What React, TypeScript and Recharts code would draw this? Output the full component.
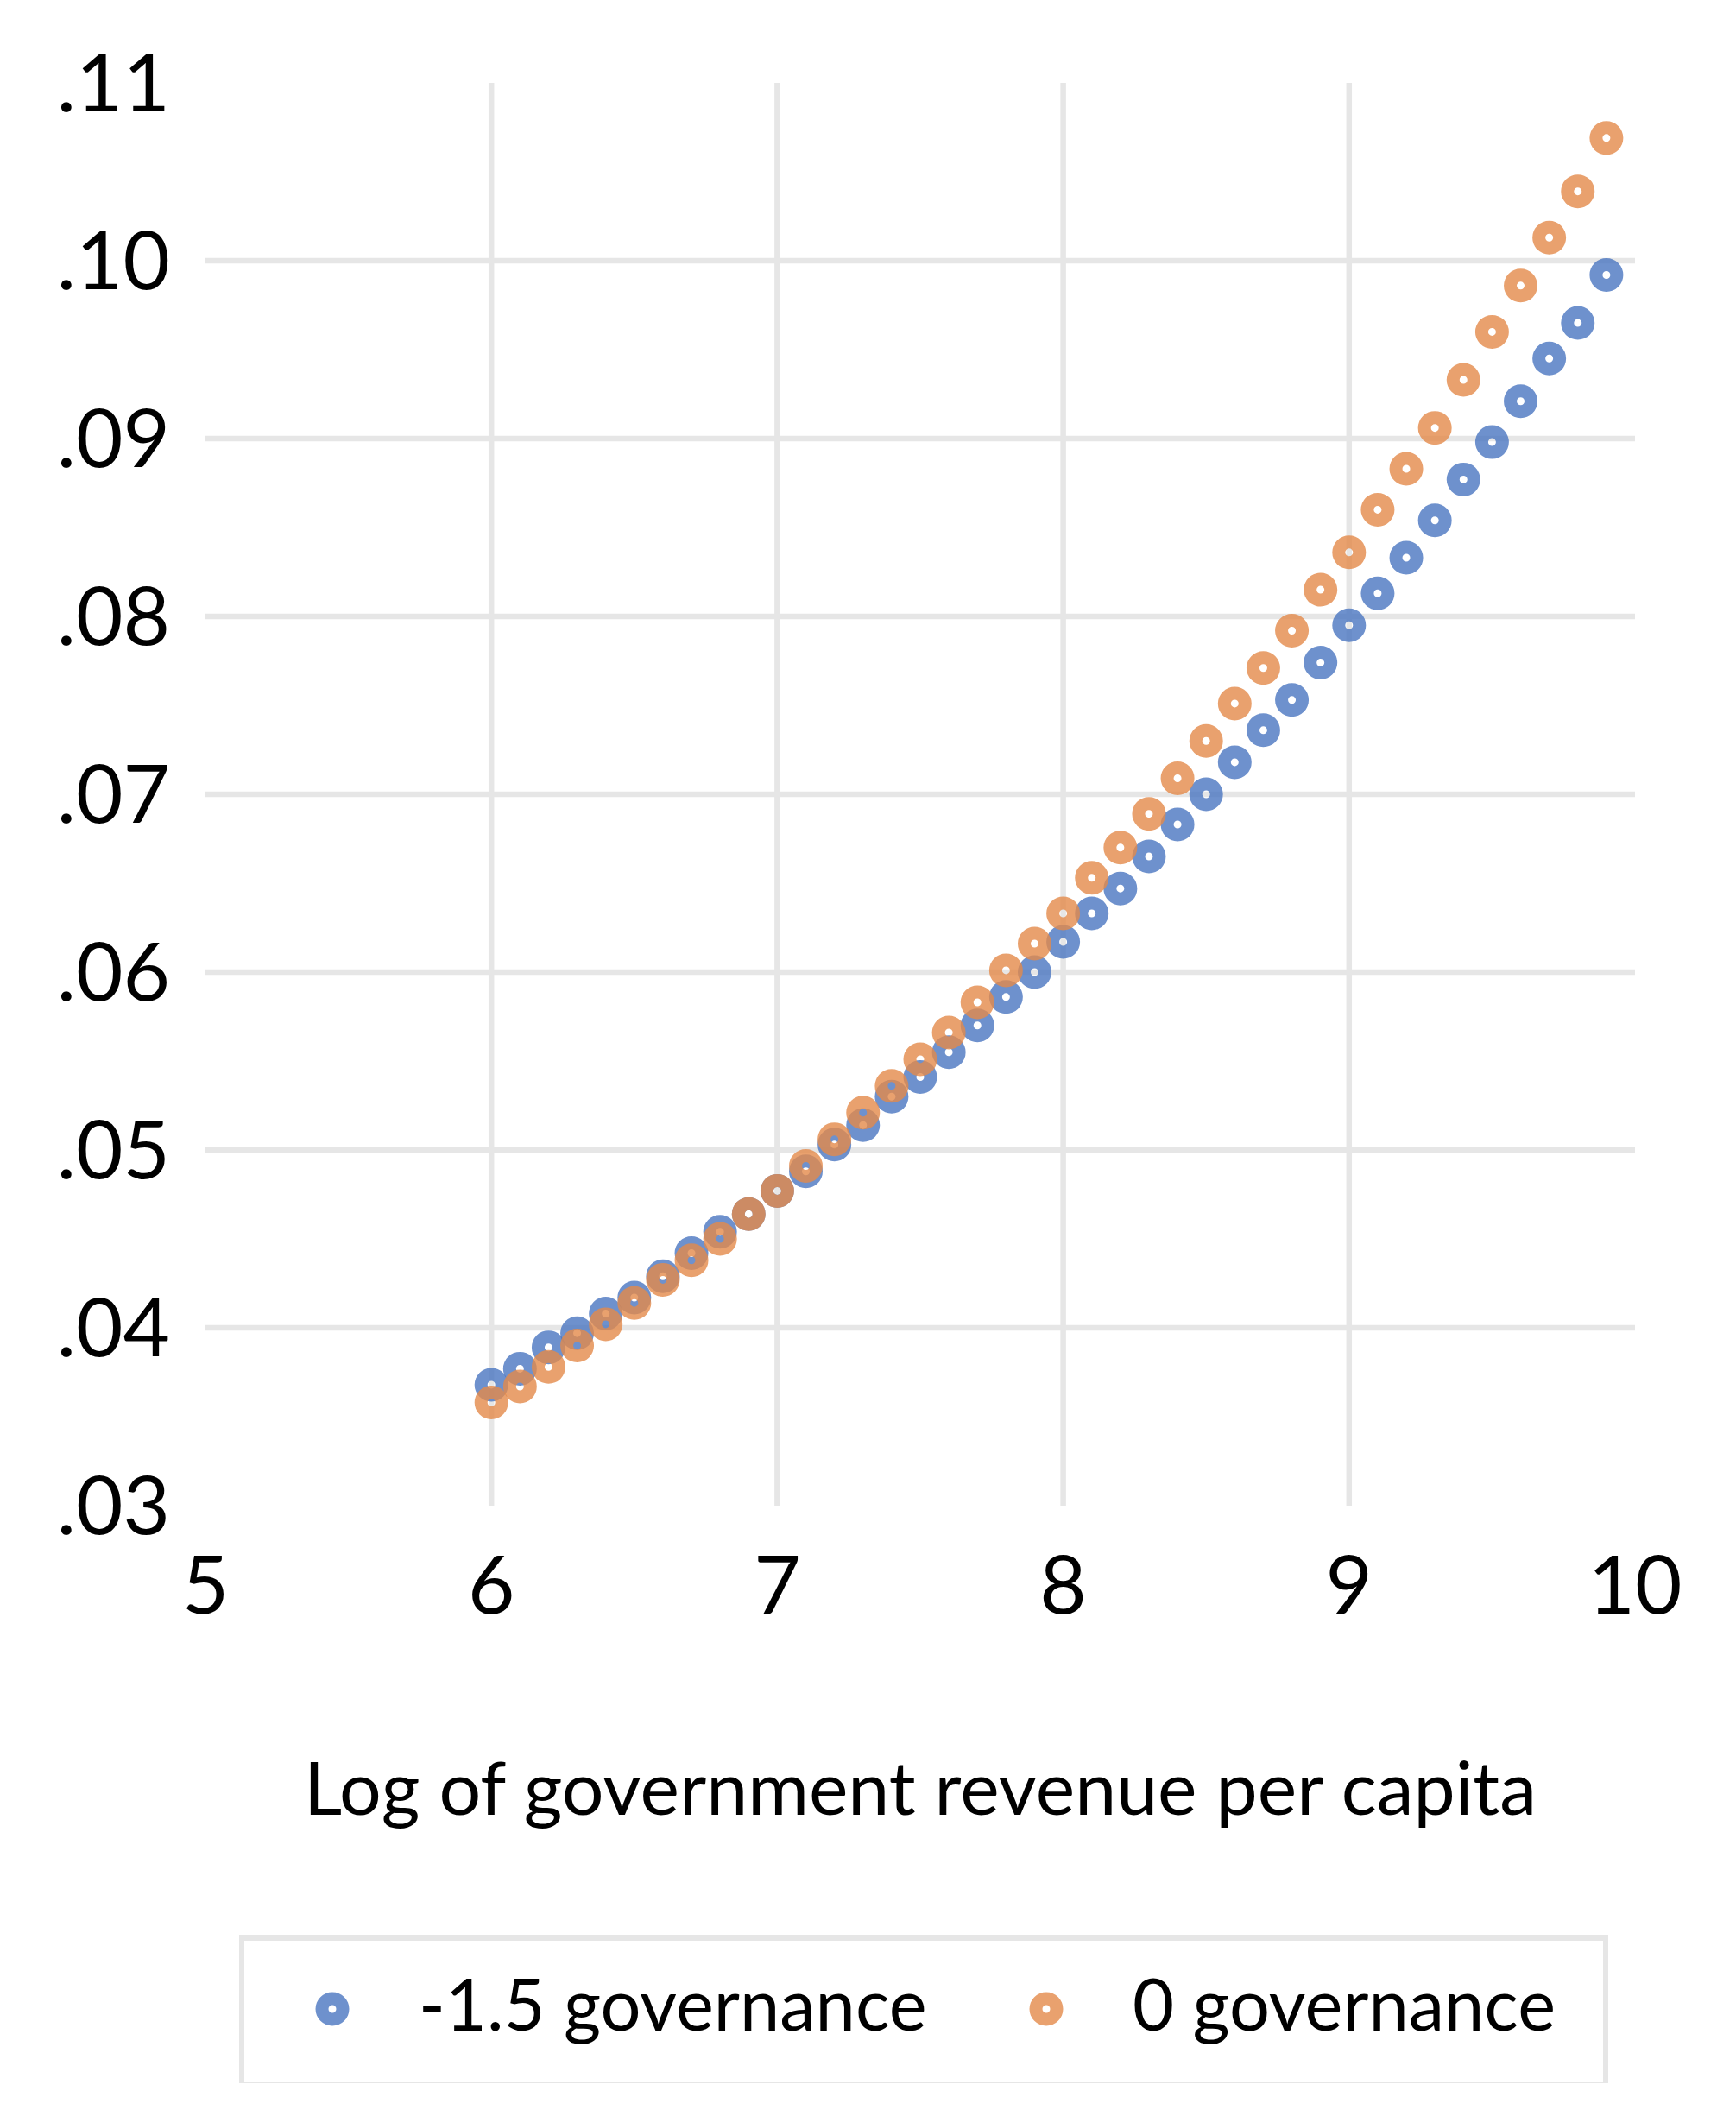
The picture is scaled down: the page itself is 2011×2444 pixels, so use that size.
import { ScatterChart, Scatter, XAxis, YAxis, ReferenceLine, Label } from "recharts";

// log of government revenue per capita
const xValues = [
  6.0, 6.1, 6.2, 6.3, 6.4, 6.5, 6.6, 6.7, 6.8, 6.9,
  7.0, 7.1, 7.2, 7.3, 7.4, 7.5, 7.6, 7.7, 7.8, 7.9,
  8.0, 8.1, 8.2, 8.3, 8.4, 8.5, 8.6, 8.7, 8.8, 8.9,
  9.0, 9.1, 9.2, 9.3, 9.4, 9.5, 9.6, 9.7, 9.8, 9.9,
];

// -1.5 governance
const lowGovernance = [
  0.0368, 0.0377, 0.0389, 0.0397, 0.0408, 0.0417, 0.0429, 0.0442, 0.0454, 0.0464,
  0.0477, 0.0488, 0.0503, 0.0514, 0.053, 0.0541, 0.0555, 0.057, 0.0586, 0.06,
  0.0617, 0.0633, 0.0647, 0.0665, 0.0683, 0.07, 0.0718, 0.0736, 0.0753, 0.0774,
  0.0795, 0.0813, 0.0833, 0.0854, 0.0877, 0.0898, 0.0921, 0.0945, 0.0965, 0.0992,
];

// 0 governance
const zeroGovernance = [
  0.0358, 0.0367, 0.0378, 0.039, 0.0402, 0.0414, 0.0427, 0.0438, 0.045, 0.0464,
  0.0477, 0.0491, 0.0506, 0.0521, 0.0536, 0.0551, 0.0566, 0.0583, 0.0601, 0.0616,
  0.0633, 0.0653, 0.067, 0.0689, 0.0709, 0.073, 0.0751, 0.0771, 0.0792, 0.0815,
  0.0836, 0.086, 0.0883, 0.0906, 0.0933, 0.096, 0.0986, 0.1013, 0.1039, 0.1069,
];

const seriesNames = ["-1.5 governance", "0 governance"];
const xTicks = [5, 6, 7, 8, 9, 10];
const yTicks = [0.03, 0.04, 0.05, 0.06, 0.07, 0.08, 0.09, 0.1, 0.11];
const xGrid = [6, 7, 8, 9];
const yGrid = [0.04, 0.05, 0.06, 0.07, 0.08, 0.09, 0.1];
const xTitle = "Log of government revenue per capita";

const BLUE = "#4a76c0";
const ORANGE = "#e38a4a";
const GRID = "#e6e6e6";
const FONT = "Lato, 'Open Sans', sans-serif";

const lowData = xValues.map((x, i) => ({ x, y: lowGovernance[i] }));
const zeroData = xValues.map((x, i) => ({ x, y: zeroGovernance[i] }));

function ringPath(cx: number, cy: number) {
  const R = 19.5;
  const r = 4.5;
  return (
    `M${cx - R},${cy}a${R},${R} 0 1,0 ${2 * R},0a${R},${R} 0 1,0 ${-2 * R},0Z` +
    `M${cx - r},${cy}a${r},${r} 0 1,0 ${2 * r},0a${r},${r} 0 1,0 ${-2 * r},0Z`
  );
}

function Ring({ cx, cy, color }: { cx: number; cy: number; color: string }) {
  if (cx == null || cy == null) return null;
  return <path d={ringPath(cx, cy)} fill={color} fillOpacity={0.8} fillRule="evenodd" />;
}

export default function App() {
  return (
    <div style={{ position: "absolute", left: 0, top: 0, width: 2011, height: 2444, background: "white" }}>
      <ScatterChart
        width={2011}
        height={2444}
        margin={{ top: 96, right: 117, left: 0, bottom: 0 }}
      >
        <XAxis
          type="number"
          dataKey="x"
          domain={[5, 10]}
          ticks={xTicks}
          height={700}
          axisLine={false}
          tickLine={false}
          tickSize={0}
          tickMargin={58}
          tick={{ fontSize: 94, fill: "#000", fontFamily: FONT }}
        >
          <Label
            content={({ viewBox }: any) => (
              <text
                x={viewBox.x + viewBox.width / 2}
                y={viewBox.y + 358}
                textAnchor="middle"
                fontSize={86}
                fontFamily={FONT}
                fill="#000"
              >
                {xTitle}
              </text>
            )}
          />
        </XAxis>
        <YAxis
          type="number"
          dataKey="y"
          domain={[0.03, 0.11]}
          ticks={yTicks}
          width={238}
          axisLine={false}
          tickLine={false}
          tickSize={0}
          tickMargin={41}
          tickFormatter={(v: number) => v.toFixed(2).slice(1)}
          tick={{ fontSize: 94, fill: "#000", fontFamily: FONT }}
        />
        {xGrid.map((v) => (
          <ReferenceLine key={`vx${v}`} x={v} stroke={GRID} strokeWidth={6.5} />
        ))}
        {yGrid.map((v) => (
          <ReferenceLine key={`hy${v}`} y={v} stroke={GRID} strokeWidth={6.5} />
        ))}
        <Scatter
          name={seriesNames[0]}
          data={lowData}
          isAnimationActive={false}
          shape={(p: any) => <Ring cx={p.cx} cy={p.cy} color={BLUE} />}
        />
        <Scatter
          name={seriesNames[1]}
          data={zeroData}
          isAnimationActive={false}
          shape={(p: any) => <Ring cx={p.cx} cy={p.cy} color={ORANGE} />}
        />
      </ScatterChart>

      <div
        style={{
          position: "absolute",
          left: 277,
          top: 2241,
          width: 1586,
          height: 172,
          boxSizing: "border-box",
          borderTop: `7px solid ${GRID}`,
          borderLeft: `6px solid ${GRID}`,
          borderRight: `6px solid ${GRID}`,
          borderBottom: `2px solid ${GRID}`,
        }}
      />
      <svg
        width={2011}
        height={2444}
        style={{ position: "absolute", left: 0, top: 0, pointerEvents: "none" }}
      >
        <Ring cx={385} cy={2327} color={BLUE} />
        <text x={485} y={2352} fontSize={83} fontFamily={FONT} fill="#000">
          {seriesNames[0]}
        </text>
        <Ring cx={1212} cy={2327} color={ORANGE} />
        <text x={1312} y={2352} fontSize={83} fontFamily={FONT} fill="#000">
          {seriesNames[1]}
        </text>
      </svg>
    </div>
  );
}
